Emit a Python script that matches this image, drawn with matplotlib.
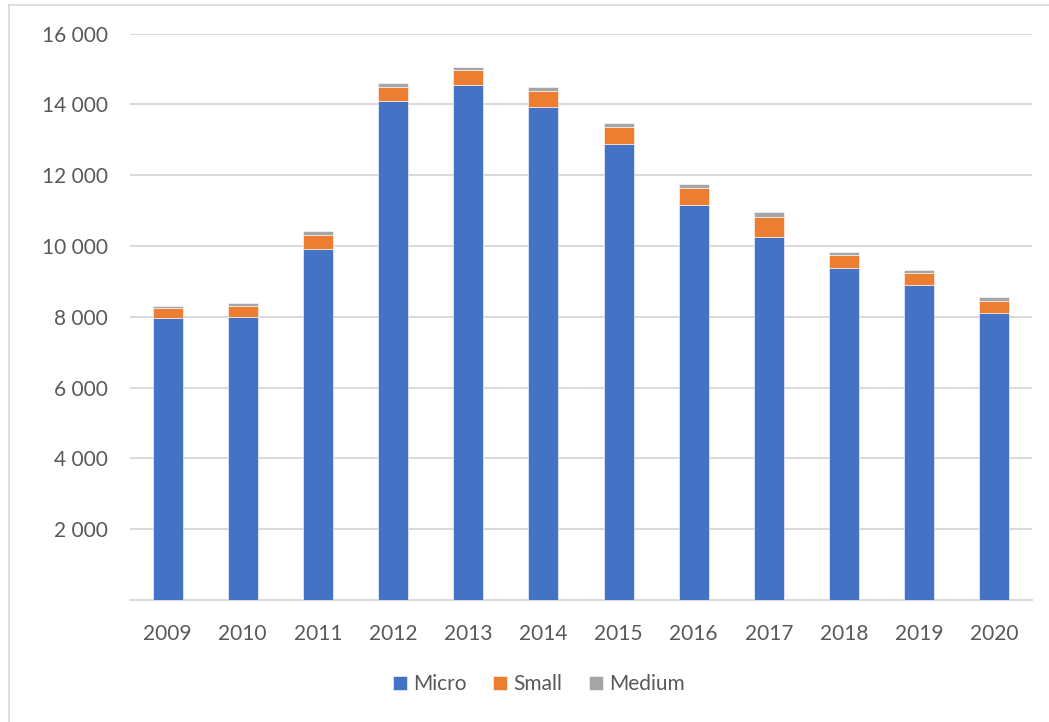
import matplotlib
matplotlib.use("Agg")
import matplotlib.pyplot as plt
from matplotlib.lines import Line2D
from matplotlib.ticker import FuncFormatter
import numpy as np

years = ["2009", "2010", "2011", "2012", "2013", "2014",
         "2015", "2016", "2017", "2018", "2019", "2020"]
micro = [7975, 7985, 9925, 14105, 14540, 13927, 12891, 11150, 10264, 9388, 8899, 8099]
small = [283, 330, 386, 378, 441, 461, 480, 498, 565, 367, 330, 339]
medium = [48, 75, 113, 113, 76, 104, 104, 113, 122, 85, 103, 113]
series_names = ["Micro", "Small", "Medium"]
colors = ["#4472C4", "#ED7D31", "#A5A5A5"]

plt.rcParams["font.family"] = ["Lato", "DejaVu Sans"]
text_color = "#595959"
grid_color = "#D9D9D9"

W, H = 1049, 722
fig = plt.figure(figsize=(W / 100, H / 100), dpi=100)
ax = fig.add_axes([130 / W, 1 - 600 / H, 902 / W, (600 - 33.7) / H])

x = np.arange(len(years))
bottom = np.zeros(len(years))
for name, vals, c in zip(series_names, [micro, small, medium], colors):
    vals = np.array(vals, dtype=float)
    ax.bar(x, vals, width=0.4, bottom=bottom, color=c, edgecolor="white",
           linewidth=0.4, zorder=3, label=name)
    bottom += vals

ax.set_xlim(-0.5, len(years) - 0.5)
ax.set_ylim(0, 16000)
ax.set_yticks(np.arange(2000, 16001, 2000))
ax.yaxis.set_major_formatter(FuncFormatter(lambda v, p: f"{int(v):,}".replace(",", " ")))
ax.set_xticks(x)
ax.set_xticklabels(years)

ax.grid(axis="y", color=grid_color, linewidth=1.4, zorder=0)
for s in ["top", "right", "left"]:
    ax.spines[s].set_visible(False)
ax.spines["bottom"].set_color(grid_color)
ax.spines["bottom"].set_linewidth(1.4)
ax.tick_params(axis="both", length=0, labelsize=15, colors=text_color)
ax.tick_params(axis="x", pad=17)
ax.tick_params(axis="y", pad=16)

leg = fig.legend(loc="center", bbox_to_anchor=(539 / W, 1 - 684 / H), ncol=3,
                 frameon=False, fontsize=15, handlelength=0.65, handleheight=0.65,
                 handletextpad=0.3, columnspacing=1.3)
for t in leg.get_texts():
    t.set_color(text_color)

# chart area border (left and top edges)
fig.add_artist(Line2D([8.5 / W, 8.5 / W], [0, 1 - 4.5 / H], transform=fig.transFigure,
                      color=grid_color, linewidth=1.2))
fig.add_artist(Line2D([8.5 / W, 1], [1 - 4.5 / H, 1 - 4.5 / H], transform=fig.transFigure,
                      color=grid_color, linewidth=1.2))

fig.savefig("out.png", dpi=100, facecolor="white")
